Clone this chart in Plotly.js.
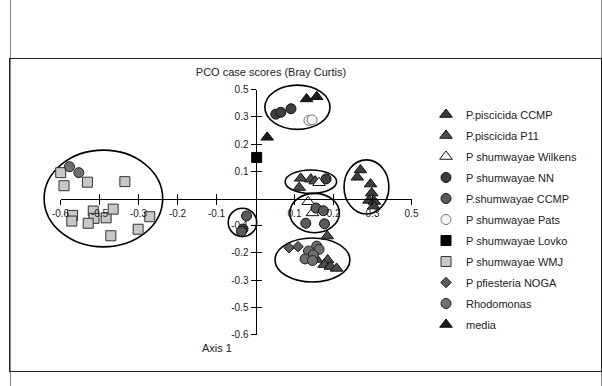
<!DOCTYPE html>
<html>
<head>
<meta charset="utf-8">
<script src="https://cdn.plot.ly/plotly-3.0.1.min.js"></script>
<style>
  html, body { margin:0; padding:0; background:#fff; width:602px; height:386px; overflow:hidden; }
  #outer { position:absolute; left:10px; top:0; width:590px; height:386px; border-left:1px solid #888; border-right:1px solid #888; }
  #inner { position:absolute; left:9px; top:58px; width:593px; height:314px; border:1px solid #222; box-sizing:border-box; }
  #chart { position:absolute; left:0; top:0; width:602px; height:386px; }
</style>
</head>
<body>
<div id="outer"></div>
<div id="inner"></div>
<div id="chart"></div>
<script>
// ---- series (PCO axis 1 = x, axis 2 = y) ----
const seriesNames = ["P.piscicida CCMP","P.piscicida P11","P shumwayae Wilkens","P shumwayae NN",
  "P.shumwayae CCMP","P shumwayae Pats","P shumwayae Lovko","P shumwayae WMJ",
  "P pfiesteria NOGA","Rhodomonas","media"];

const piscicidaCCMP_x = [0.269,0.261,0.295,0.298,0.291,0.305,0.303];
const piscicidaCCMP_y = [0.105,0.078,0.053,0.020,-0.007,-0.011,-0.028];

const piscicidaP11_x = [0.116,0.112,0.142,0.153,0.184,0.157,0.185,0.176,0.192,0.208];
const piscicidaP11_y = [0.074,0.040,0.071,0.064,-0.138,-0.224,-0.226,-0.243,-0.250,-0.257];

const wilkens_x = [0.135,0.146,0.163];
const wilkens_y = [-0.012,-0.053,0.058];

const nn_x = [0.052,0.065,0.091,0.181,-0.032];
const nn_y = [0.310,0.317,0.330,0.072,-0.112];

const shumCCMP_x = [0.155,0.174,0.129,0.177,-0.023,-0.036];
const shumCCMP_y = [-0.035,-0.045,-0.091,-0.093,-0.064,-0.121];

const pats_x = [0.137,0.145];
const pats_y = [0.287,0.289];

const lovko_x = [0.003];
const lovko_y = [0.151];

const wmj_x = [-0.4995,-0.491,-0.431,-0.335,-0.469,-0.471,-0.416,-0.414,-0.429,-0.383,-0.365,-0.271,-0.301,-0.371];
const wmj_y = [0.095,0.047,0.060,0.062,-0.062,-0.083,-0.046,-0.073,-0.091,-0.071,-0.039,-0.067,-0.113,-0.137];

const noga_x = [0.086,0.109];
const noga_y = [-0.181,-0.177];

const rhodo_x = [-0.477,-0.453,0.157,0.163,0.136,0.148,0.127,0.146];
const rhodo_y = [0.117,0.095,-0.175,-0.187,-0.193,-0.207,-0.222,-0.228];

const media_x = [0.131,0.157,0.030];
const media_y = [0.366,0.374,0.225];

// cluster ellipses (data bounds)
const ellipseX0 = [-0.542, 0.024, 0.076, 0.227, 0.088, -0.070, 0.050];
const ellipseX1 = [-0.238, 0.191, 0.208, 0.342, 0.215, 0.003, 0.242];
const ellipseY0 = [-0.178, 0.254, 0.019, -0.057, -0.126, -0.140, -0.307];
const ellipseY1 = [ 0.178, 0.417, 0.105, 0.142, 0.019, -0.036, -0.145];

// axis ticks
const tickVals = [-0.5,-0.4,-0.3,-0.2,-0.1,0.1,0.2,0.3,0.4];
const xTickText = ["-0.6","-0.5","-0.3","-0.2","-0.1","0.1","0.2","0.3","0.5"];
const yTickText = ["-0.6","-0.5","-0.3","-0.2","-0.1","0.1","0.2","0.3","0.5"];
const axisMin = -0.5, axisMax = 0.4;

// ---- styling ----
const W = 602, H = 386;
const xRange = [-255.5/390, (W-255.5)/390];
const yRange = [(198.5-H)/272, 198.5/272];
const fx = v => (v - xRange[0])/(xRange[1]-xRange[0]);
const fy = v => (v - yRange[0])/(yRange[1]-yRange[0]);

const xs = [piscicidaCCMP_x,piscicidaP11_x,wilkens_x,nn_x,shumCCMP_x,pats_x,lovko_x,wmj_x,noga_x,rhodo_x,media_x];
const ys = [piscicidaCCMP_y,piscicidaP11_y,wilkens_y,nn_y,shumCCMP_y,pats_y,lovko_y,wmj_y,noga_y,rhodo_y,media_y];
const symbols = ["triangle-up","triangle-up","triangle-up","circle","circle","circle","square","square","diamond","circle","triangle-up"];
const fills = ["#3c3c3c","#4d4d4d","#ffffff","#3f3f3f","#5a5a5a","#f4f4f4","#000000","#c8c8c8","#5e5e5e","#707070","#1c1c1c"];
const lines = ["#111","#111","#111","#111","#111","#777","#000","#333","#111","#222","#111"];
const sizes = [11,11,11,10,10,10,10,10,8,10,11];

const traces = seriesNames.map((n,i) => ({
  type:'scatter', mode:'markers', name:n, x:xs[i], y:ys[i],
  legendgroup:'g'+i,
  marker:{symbol:symbols[i], size:sizes[i], color:fills[i], line:{color:lines[i], width:1}},
  hoverinfo:'name+x+y'
}));
traces.push({type:'scatter', x:[null], y:[null], xaxis:'x2', yaxis:'y2', showlegend:false, hoverinfo:'skip'});
traces.push({type:'scatter', x:[null], y:[null], xaxis:'x3', yaxis:'y3', showlegend:false, hoverinfo:'skip'});

const shapes = ellipseX0.map((_,i) => ({
  type:'circle', xref:'x', yref:'y', x0:ellipseX0[i], x1:ellipseX1[i], y0:ellipseY0[i], y1:ellipseY1[i],
  line:{color:'#000', width:1.6}, layer:'below'
}));

const font = 'Liberation Sans, Arial, sans-serif';
const baseX = {range:[axisMin,axisMax], domain:[fx(axisMin),fx(axisMax)], anchor:'free', position:fy(0),
  showline:true, linecolor:'#000', linewidth:1, showgrid:false, zeroline:false,
  tickmode:'array', tickvals:tickVals, ticktext:xTickText, ticklen:5, tickwidth:1, tickcolor:'#000',
  tickfont:{family:font, size:10, color:'#222'}, fixedrange:true};
const baseY = {range:[axisMin,axisMax], domain:[fy(axisMin),fy(axisMax)], anchor:'free', position:fx(0),
  showline:true, linecolor:'#000', linewidth:1, showgrid:false, zeroline:false,
  tickmode:'array', tickvals:tickVals, ticktext:yTickText, ticklen:5, tickwidth:1, tickcolor:'#000',
  tickfont:{family:font, size:10, color:'#222'}, fixedrange:true};

const layout = {
  width:W, height:H, margin:{l:0,r:0,t:0,b:0,autoexpand:false},
  paper_bgcolor:'rgba(0,0,0,0)', plot_bgcolor:'rgba(0,0,0,0)',
  font:{family:font, color:'#222'},
  title:{text:'PCO case scores (Bray Curtis)', font:{family:font, size:11, color:'#222'},
    x:271/W, xanchor:'center', xref:'paper', y:1-72/H, yanchor:'middle', yref:'container'},
  xaxis:{range:xRange, visible:false, fixedrange:true},
  yaxis:{range:yRange, visible:false, fixedrange:true},
  xaxis2:Object.assign({}, baseX, {ticks:'outside', showticklabels:true}),
  yaxis2:Object.assign({}, baseY, {ticks:'outside', showticklabels:true}),
  xaxis3:Object.assign({}, baseX, {ticks:'inside', showticklabels:false}),
  yaxis3:Object.assign({}, baseY, {ticks:'inside', showticklabels:false}),
  shapes:shapes,
  annotations:[{text:'Axis 1', xref:'paper', yref:'paper', x:217/W, y:1-356/H, showarrow:false,
    font:{family:font, size:11, color:'#222'}}],
  showlegend:true,
  legend:{x:426/W, xanchor:'left', y:1-100/H, yanchor:'top', bgcolor:'rgba(0,0,0,0)',
    font:{family:font, size:11, color:'#222'}, tracegroupgap:2, itemsizing:'trace'}
};

Plotly.newPlot('chart', traces, layout, {displayModeBar:false, staticPlot:true});
</script>
</body>
</html>
